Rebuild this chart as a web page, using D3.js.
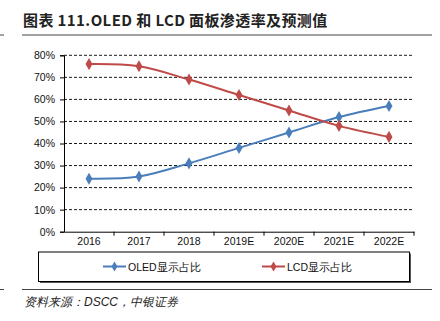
<!DOCTYPE html>
<html>
<head>
<meta charset="utf-8">
<script src="https://cdn.jsdelivr.net/npm/d3@7"></script>
<style>
  body { margin: 0; background: #fff; }
  svg { display: block; font-family: "Liberation Sans", Arial, sans-serif; }
</style>
</head>
<body>
<div class="main-container"></div>
<script>
const years = ["2016", "2017", "2018", "2019E", "2020E", "2021E", "2022E"];
const oledShare = [24, 25, 31, 38, 45, 52, 57];
const lcdShare = [76, 75, 69, 62, 55, 48, 43];
const yTicks = [0, 10, 20, 30, 40, 50, 60, 70, 80];
const seriesNames = ["OLED显示占比", "LCD显示占比"];

const width = 440, height = 321;
const plot = {left: 64, right: 414, top: 55.3, bottom: 231.7};

const svg = d3.select(".main-container")
  .append("svg")
  .attr("width", width)
  .attr("height", height);

// title + rules
svg.append("text")
  .attr("x", 23)
  .attr("y", 26)
  .attr("font-size", 15)
  .attr("font-weight", "bold")
  .attr("letter-spacing", 0.4)
  .attr("font-family", "'Noto Sans CJK SC', sans-serif")
  .attr("fill", "#222")
  .text("图表 111.OLED 和 LCD 面板渗透率及预测值");

[35, 289.5].forEach(yy => {
  svg.append("line").attr("x1", 22).attr("x2", 432).attr("y1", yy).attr("y2", yy)
    .attr("stroke", "#444").attr("stroke-width", 1);
  svg.append("line").attr("x1", 0).attr("x2", 4).attr("y1", yy).attr("y2", yy)
    .attr("stroke", "#444").attr("stroke-width", 1);
});

let x = d3.scaleBand()
  .domain(years)
  .range([plot.left, plot.right]);

let y = d3.scaleLinear()
  .domain([0, 80])
  .range([plot.bottom, plot.top]);

// gridlines
svg.append("g")
  .selectAll("line")
  .data(yTicks.filter(d => d > 0))
  .join("line")
  .attr("x1", plot.left)
  .attr("x2", plot.right)
  .attr("y1", d => y(d))
  .attr("y2", d => y(d))
  .attr("stroke", "#000")
  .attr("stroke-width", 0.9)
  .attr("stroke-dasharray", "3,2");

// y axis
const yAxis = svg.append("g")
  .attr("transform", `translate(${plot.left},0)`)
  .call(d3.axisLeft(y).tickValues(yTicks).tickFormat(d => d + "%").tickSize(4).tickPadding(5));
yAxis.select(".domain").attr("stroke", "#000");
yAxis.selectAll("text").attr("font-size", 10.5).attr("fill", "#111");

// x axis
const xAxis = svg.append("g")
  .attr("transform", `translate(0,${plot.bottom})`)
  .call(d3.axisBottom(x).tickSize(0).tickPadding(6).tickSizeOuter(0));
xAxis.select(".domain").attr("stroke", "#000");
xAxis.selectAll("text").attr("font-size", 10.5).attr("fill", "#111");
xAxis.selectAll(".sep")
  .data(years)
  .join("line")
  .attr("class", "sep")
  .attr("x1", d => x(d) + x.bandwidth())
  .attr("x2", d => x(d) + x.bandwidth())
  .attr("y1", 0)
  .attr("y2", 4)
  .attr("stroke", "#000");

const colors = ["#4A7EBB", "#BE4B48"];
const allSeries = [oledShare, lcdShare];

const line = d3.line()
  .x((d, i) => x(years[i]) + x.bandwidth() / 2)
  .y(d => y(d))
  .curve(d3.curveCatmullRom.alpha(0));

allSeries.forEach((values, s) => {
  svg.append("path")
    .datum(values)
    .attr("fill", "none")
    .attr("stroke", colors[s])
    .attr("stroke-width", 2)
    .attr("d", line);

  svg.append("g")
    .selectAll("path")
    .data(values)
    .join("path")
    .attr("d", d3.symbol(d3.symbolDiamond, 42))
    .attr("transform", (d, i) => `translate(${x(years[i]) + x.bandwidth() / 2},${y(d)})`)
    .attr("fill", colors[s]);
});

// legend box with shadow
svg.append("rect")
  .attr("x", 40).attr("y", 253.5).attr("width", 371).attr("height", 29.5)
  .attr("fill", "#555");
svg.append("rect")
  .attr("x", 38.5).attr("y", 252).attr("width", 371).attr("height", 29.5)
  .attr("fill", "#fff").attr("stroke", "#000").attr("stroke-width", 1);

const legendX = [103, 262];
seriesNames.forEach((name, s) => {
  const g = svg.append("g").attr("transform", `translate(${legendX[s]},266.5)`);
  g.append("line").attr("x1", 0).attr("x2", 23).attr("y1", 0).attr("y2", 0)
    .attr("stroke", colors[s]).attr("stroke-width", 2);
  g.append("path").attr("d", d3.symbol(d3.symbolDiamond, 30))
    .attr("transform", "translate(11.5,0)").attr("fill", colors[s]);
  g.append("text").attr("x", 25).attr("y", 4)
    .attr("font-size", 10.5).attr("fill", "#111")
    .text(name);
});

// source
svg.append("text")
  .attr("x", 24)
  .attr("y", 306)
  .attr("font-size", 12)
  .attr("font-style", "italic")
  .attr("fill", "#222")
  .text("资料来源：DSCC，中银证券");
</script>
</body>
</html>
